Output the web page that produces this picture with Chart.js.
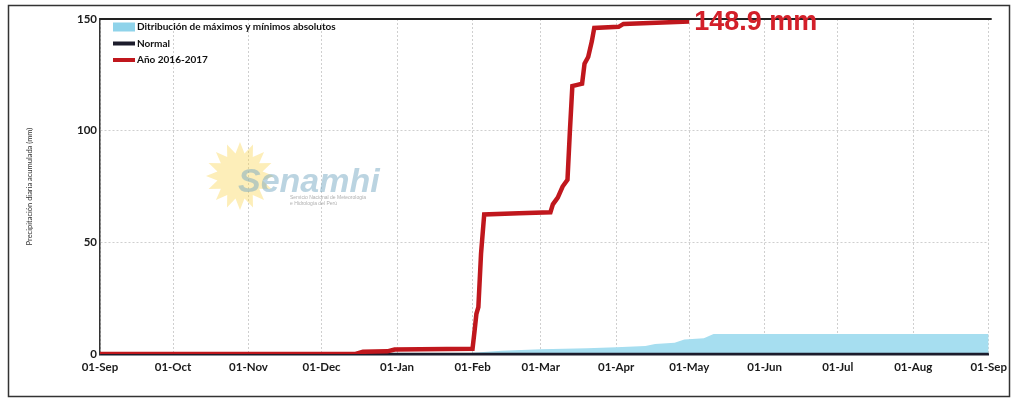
<!DOCTYPE html>
<html>
<head>
<meta charset="utf-8">
<script src="https://cdn.jsdelivr.net/npm/chart.js@4.4.1/dist/chart.umd.min.js"></script>
<style>
  html, body { margin: 0; padding: 0; background: #fff; }
  #wrap { width: 1013px; height: 403px; position: relative; }
</style>
</head>
<body>
<div id="wrap"><canvas id="grafico" width="1013" height="403"></canvas></div>
<script>
// dias desde el 01-Sep-2016
const mesesDias = [0, 30, 61, 91, 122, 153, 181, 212, 242, 273, 303, 334, 365]
const mesesEtiquetas = ['01-Sep', '01-Oct', '01-Nov', '01-Dec', '01-Jan', '01-Feb', '01-Mar', '01-Apr', '01-May', '01-Jun', '01-Jul', '01-Aug', '01-Sep']

const anoDias = [0, 105, 108, 118, 121, 153, 153.8, 154.6, 155.4, 156.5, 157.8, 172, 185, 186, 188, 190, 192, 193, 194, 196, 198, 199, 200.5, 202, 203, 213, 215, 242]
const anoValores = [0, 0, 1, 1.2, 2, 2.3, 10, 18, 21, 45, 62.5, 63, 63.5, 67, 70, 75, 78, 100, 120, 120.5, 121, 130, 133, 140, 146, 146.5, 147.8, 148.9]

const distDias = [0, 151, 153, 165, 181, 200, 212, 224, 228, 236, 240, 248, 252, 365]
const distValores = [0, 0, 0.6, 1.4, 2.1, 2.6, 3, 3.6, 4.5, 5, 6.5, 7, 9, 9]

const normalDias = [0, 365]
const normalValores = [0, 0]

const yTicks = [0, 50, 100, 150]

function puntos(xs, ys) {
  return xs.map((x, i) => ({ x: x, y: ys[i] }))
}

const extras = {
  id: 'extras',
  beforeDatasetsDraw(chart) {
    const ctx = chart.ctx
    // marca de agua
    ctx.save()
    ctx.fillStyle = 'rgba(250, 212, 80, 0.4)'
    ctx.beginPath()
    const cx = 240, cy = 176
    for (let i = 0; i < 32; i++) {
      const a = i * Math.PI / 16
      const r = i % 2 === 0 ? 34 : 23
      const px = cx + r * Math.cos(a), py = cy + r * Math.sin(a)
      if (i === 0) ctx.moveTo(px, py); else ctx.lineTo(px, py)
    }
    ctx.closePath()
    ctx.fill()
    ctx.font = 'italic bold 34px "Liberation Sans"'
    ctx.fillStyle = 'rgba(120, 170, 195, 0.5)'
    ctx.fillText('Senamhi', 238, 192)
    ctx.font = '5px "Liberation Sans"'
    ctx.fillStyle = 'rgba(120, 120, 120, 0.6)'
    ctx.fillText('Servicio Nacional de Meteorología', 290, 199)
    ctx.fillText('e Hidrología del Perú', 290, 205)
    ctx.restore()
  },
  afterDraw(chart) {
    const ctx = chart.ctx
    const xs = chart.scales.x, ys = chart.scales.y
    ctx.save()
    // marco exterior
    ctx.strokeStyle = '#333'
    ctx.lineWidth = 1.5
    ctx.strokeRect(8.5, 5.5, 1001, 391)
    // linea superior
    ctx.strokeStyle = '#222'
    ctx.lineWidth = 2
    ctx.beginPath()
    ctx.moveTo(chart.chartArea.left, ys.getPixelForValue(150))
    ctx.lineTo(chart.chartArea.right + 3, ys.getPixelForValue(150))
    ctx.stroke()

    // leyenda
    const filas = [
      { txt: 'Ditribución de máximos y mínimos absolutos', color: '#8fd3ea', h: 9 },
      { txt: 'Normal', color: '#1c1c2c', h: 4 },
      { txt: 'Año 2016-2017', color: '#c0171d', h: 4 }
    ]
    ctx.font = 'bold 10px Lato'
    ctx.textBaseline = 'middle'
    filas.forEach((f, i) => {
      const y = 27 + i * 16.5
      ctx.fillStyle = f.color
      ctx.fillRect(113, y - f.h / 2, 22, f.h)
      ctx.fillStyle = '#111'
      ctx.fillText(f.txt, 137, y)
    })

    // valor final
    const ultimo = anoDias.length - 1
    const px = xs.getPixelForValue(anoDias[ultimo])
    const py = ys.getPixelForValue(anoValores[ultimo])
    ctx.font = 'bold 27px "Liberation Sans"'
    ctx.textBaseline = 'alphabetic'
    ctx.fillStyle = '#d3202a'
    ctx.fillText(anoValores[ultimo].toFixed(1) + ' mm', px + 5, py + 9)
    ctx.restore()
  }
}

new Chart(document.getElementById('grafico'), {
  type: 'line',
  data: {
    datasets: [
      {
        label: 'Año 2016-2017',
        data: puntos(anoDias, anoValores),
        borderColor: '#c0171d',
        borderWidth: 4.5,
        pointRadius: 0,
        fill: false,
        order: 1
      },
      {
        label: 'Normal',
        data: puntos(normalDias, normalValores),
        borderColor: '#1c1c2c',
        borderWidth: 2.5,
        pointRadius: 0,
        fill: false,
        order: 2
      },
      {
        label: 'Ditribución de máximos y mínimos absolutos',
        data: puntos(distDias, distValores),
        borderColor: 'rgba(0,0,0,0)',
        borderWidth: 0,
        backgroundColor: '#a6def0',
        pointRadius: 0,
        fill: 'origin',
        order: 3
      }
    ]
  },
  options: {
    responsive: false,
    animation: false,
    layout: { padding: { left: 25, right: 24, top: 19, bottom: 17 } },
    plugins: {
      legend: { display: false },
      tooltip: { enabled: false }
    },
    scales: {
      x: {
        type: 'linear',
        min: 0,
        max: 365,
        afterBuildTicks(scale) {
          scale.ticks = mesesDias.map((v) => ({ value: v }))
        },
        afterFit(scale) { scale.height = 32 },
        ticks: {
          autoSkip: false,
          maxRotation: 0,
          padding: 6,
          color: '#1a1a1a',
          font: { family: 'Lato', weight: 'bold', size: 11.5 },
          callback: (value, index) => mesesEtiquetas[index]
        },
        grid: { color: '#cfcfcf', drawTicks: false },
        border: { display: true, color: '#1c1c2c', width: 2.5, dash: [2, 2] }
      },
      y: {
        min: 0,
        max: 150,
        afterBuildTicks(scale) {
          scale.ticks = yTicks.map((v) => ({ value: v }))
        },
        afterFit(scale) { scale.width = 75 },
        ticks: {
          padding: 3,
          color: '#1a1a1a',
          font: { family: 'Lato', weight: 'bold', size: 11.5 }
        },
        title: {
          display: true,
          text: 'Precipitación diaria acumulada (mm)',
          color: '#333',
          font: { family: 'Lato', size: 7.5 },
          padding: { top: 0, bottom: 0 }
        },
        grid: { color: '#cfcfcf', drawTicks: false },
        border: { display: true, color: '#333', width: 1.5, dash: [2, 2] }
      }
    }
  },
  plugins: [extras]
})
</script>
</body>
</html>
